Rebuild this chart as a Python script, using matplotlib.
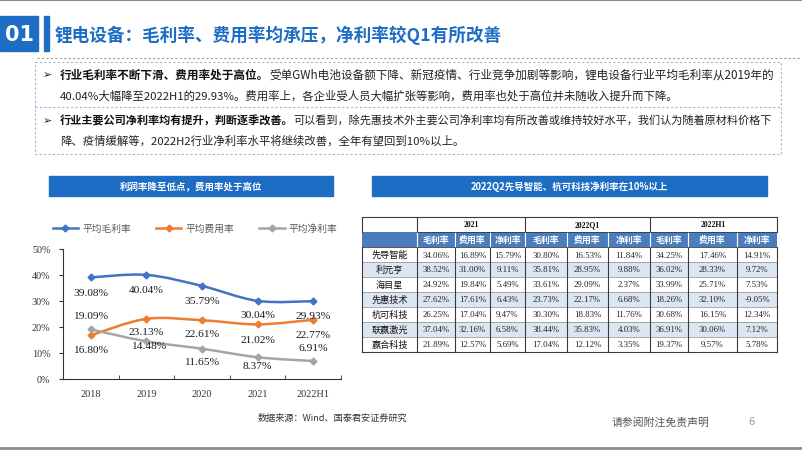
import matplotlib.pyplot as plt
import numpy as np
from matplotlib.path import Path
from matplotlib.patches import PathPatch, Rectangle
from matplotlib.lines import Line2D

plt.rcParams['font.family'] = ['Noto Sans CJK SC', 'DejaVu Sans']

# ---- data ----
years = ['2018', '2019', '2020', '2021', '2022H1']
gross = [39.08, 40.04, 35.79, 30.04, 29.93]
expense = [16.80, 23.13, 22.61, 21.02, 22.77]
net = [19.09, 14.48, 11.65, 8.37, 6.91]
series_names = ['平均毛利率', '平均费用率', '平均净利率']

periods = ['2021', '2022Q1', '2022H1']
metrics = ['毛利率', '费用率', '净利率']
companies = ['先导智能', '利元亨', '海目星', '先惠技术', '杭可科技', '联赢激光', '赢合科技']
table_vals = [
    ['34.06%', '16.89%', '15.79%', '30.80%', '16.53%', '11.84%', '34.25%', '17.46%', '14.91%'],
    ['38.52%', '31.00%', '9.11%', '35.81%', '28.95%', '9.88%', '36.02%', '28.33%', '9.72%'],
    ['24.92%', '19.84%', '5.49%', '33.61%', '29.09%', '2.37%', '33.99%', '25.71%', '7.53%'],
    ['27.62%', '17.61%', '6.43%', '23.73%', '22.17%', '6.68%', '18.26%', '32.10%', '-9.05%'],
    ['26.25%', '17.04%', '9.47%', '30.30%', '18.83%', '11.76%', '30.68%', '16.15%', '12.34%'],
    ['37.04%', '32.16%', '6.58%', '38.44%', '35.83%', '4.03%', '36.91%', '30.06%', '7.12%'],
    ['21.89%', '12.57%', '5.69%', '17.04%', '12.12%', '3.35%', '19.37%', '9.57%', '5.78%'],
]

title = '锂电设备：毛利率、费用率均承压，净利率较Q1有所改善'
para1_bold = '行业毛利率不断下滑、费用率处于高位。'
para1_rest = '受单GWh电池设备额下降、新冠疫情、行业竞争加剧等影响，锂电设备行业平均毛利率从2019年的'
para1_line2 = '40.04%大幅降至2022H1的29.93%。费用率上，各企业受人员大幅扩张等影响，费用率也处于高位并未随收入提升而下降。'
para2_bold = '行业主要公司净利率均有提升，判断逐季改善。'
para2_rest = '可以看到，除先惠技术外主要公司净利率均有所改善或维持较好水平，我们认为随着原材料价格下'
para2_line2 = '降、疫情缓解等，2022H2行业净利率水平将继续改善，全年有望回到10%以上。'

BLUE = '#1D6DC4'
SERIF = 'Liberation Serif'

W, H = 802, 452
fig = plt.figure(figsize=(W / 100, H / 100), dpi=100)

# background layer in pixel coordinates
bg = fig.add_axes([0, 0, 1, 1])
bg.set_xlim(0, W)
bg.set_ylim(H, 0)
bg.axis('off')

# slide frame
bg.plot([0, W], [1, 1], color='#8c8c8c', lw=1.5)
bg.plot([0, W], [449, 449], color='#8c8c8c', lw=2)

# title block
bg.add_patch(Rectangle((0, 17), 38, 35, color=BLUE))
bg.text(19, 35, '01', color='white', fontsize=15, fontweight='bold', ha='center', va='center',
        family='DejaVu Sans')
bg.add_patch(Rectangle((44, 17), 5, 35, color=BLUE))
bg.text(55, 35, title, color=BLUE, fontsize=12.7, fontweight='bold', va='center')
bg.plot([37, W], [59, 59], color='#a0a0a0', lw=0.8, ls=(0, (2, 2)))

# text box
bg.add_patch(Rectangle((35, 63), 746, 92, fill=False, ec='#9fb6d8', lw=0.8, ls=(0, (2, 2))))
bg.plot([35, 781], [108, 108], color='#9fb6d8', lw=0.8, ls=(0, (2, 2)))


def rich_line(y, bold, rest, size):
    bg.text(43, y, '➢', fontsize=8, va='center', family='DejaVu Sans', color='#222222')
    t = bg.text(60, y, bold, fontsize=size, fontweight='bold', va='center', color='#111111')
    bg.annotate(rest, xy=(1, 0.5), xycoords=t, va='center', ha='left', fontsize=size,
                color='#222222')


rich_line(75, para1_bold, para1_rest, 8.38)
bg.text(60, 96, para1_line2, fontsize=8.2, va='center', color='#222222')
rich_line(121, para2_bold, para2_rest, 8.02)
bg.text(60, 141, para2_line2, fontsize=8.2, va='center', color='#222222')

# panel headers
bg.add_patch(Rectangle((49, 177), 284, 20, color=BLUE))
bg.text(191, 187, '利润率降至低点，费用率处于高位', color='white', fontsize=6.8,
        fontweight='bold', ha='center', va='center')
bg.add_patch(Rectangle((372, 177), 395, 20, color=BLUE))
bg.text(569, 187, '2022Q2先导智能、杭可科技净利率在10%以上', color='white', fontsize=6.8,
        fontweight='bold', ha='center', va='center')

# footer
bg.text(258, 418, '数据来源：Wind、国泰君安证券研究', fontsize=6.6, va='center', color='#333333')
bg.text(612, 422, '请参阅附注免责声明', fontsize=7.8, va='center', color='#555555')
bg.text(748, 422, '6', fontsize=7.8, va='center', color='#999999')

# ---- table ----
col_edges = [362, 417, 455, 490, 525, 567, 608, 650, 688, 737, 777]
top, rh = 218, 15
hdr2_top = top + rh
data_top = top + 2 * rh
bottom = data_top + rh * len(companies)
HDR_BLUE = '#4a7dbd'
LIGHT = '#dce6f2'

bg.add_patch(Rectangle((col_edges[0], hdr2_top), col_edges[-1] - col_edges[0], rh,
                       color=HDR_BLUE, lw=0))
for i, comp in enumerate(companies):
    y0 = data_top + i * rh
    if i % 2 == 1:
        bg.add_patch(Rectangle((col_edges[0], y0), col_edges[-1] - col_edges[0], rh,
                               color=LIGHT, lw=0))
    bg.text((col_edges[0] + col_edges[1]) / 2, y0 + rh / 2, comp, fontsize=6.6,
            ha='center', va='center', color='#111111')
    for j, v in enumerate(table_vals[i]):
        bg.text((col_edges[j + 1] + col_edges[j + 2]) / 2, y0 + rh / 2, v, fontsize=6.3,
                ha='center', va='center', family=SERIF, color='#222222')
    if i > 0:
        bg.plot([col_edges[0], col_edges[-1]], [y0, y0], color='#8a8a8a', lw=0.5)

for k, p in enumerate(periods):
    x0, x1 = col_edges[1 + 3 * k], col_edges[4 + 3 * k]
    bg.text((x0 + x1) / 2, top + rh / 2, p, fontsize=5.6, fontweight='bold', family=SERIF,
            ha='center', va='center', color='#111111')
    for m, name in enumerate(metrics):
        c = 1 + 3 * k + m
        bg.text((col_edges[c] + col_edges[c + 1]) / 2, hdr2_top + rh / 2, name, fontsize=6.4,
                fontweight='bold', ha='center', va='center', color='white')

# grid lines
line_c = '#3a3a3a'
for x in col_edges:
    bg.plot([x, x], [data_top, bottom], color=line_c, lw=0.8)
for x in [col_edges[0], col_edges[1], col_edges[4], col_edges[7], col_edges[10]]:
    bg.plot([x, x], [top, hdr2_top], color=line_c, lw=0.8)
for x in col_edges[1:-1]:
    bg.plot([x, x], [hdr2_top, data_top], color='white', lw=0.8)
bg.plot([col_edges[0], col_edges[-1]], [top, top], color=line_c, lw=0.8)
bg.plot([col_edges[1], col_edges[-1]], [hdr2_top, hdr2_top], color=line_c, lw=0.6)
bg.plot([col_edges[0], col_edges[-1]], [data_top, data_top], color=line_c, lw=0.6)
bg.plot([col_edges[0], col_edges[-1]], [bottom, bottom], color=line_c, lw=0.8)

# ---- line chart ----
ax = fig.add_axes([63 / W, 1 - 380 / H, 278 / W, 130 / H])
ax.set_facecolor('none')
x = np.arange(len(years))
colors = ['#4472c4', '#ed7d31', '#a5a5a5']


def smooth_path(xs, ys):
    pts = np.column_stack([xs, ys]).astype(float)
    verts = [pts[0]]
    codes = [Path.MOVETO]
    n = len(pts)
    for i in range(n - 1):
        p0 = pts[max(i - 1, 0)]
        p1 = pts[i]
        p2 = pts[i + 1]
        p3 = pts[min(i + 2, n - 1)]
        verts += [p1 + (p2 - p0) / 6, p2 - (p3 - p1) / 6, p2]
        codes += [Path.CURVE4] * 3
    return Path(verts, codes)


# label offsets in pixels (dx, dy)
offsets = [
    [(0, -15), (0, -15), (0, -15), (0, -14), (0, -14)],
    [(0, -14), (0, -13), (0, -13), (0, -15), (0, -15)],
    [(0, 14), (2, -4), (0, -13), (0, -8), (0, 14)],
]
handles = []
for vals, col, name, offs in zip([gross, expense, net], colors, series_names, offsets):
    ax.add_patch(PathPatch(smooth_path(x, vals), fill=False, ec=col, lw=1.8, zorder=2))
    ax.plot(x, vals, ls='none', marker='D', ms=3.5, color=col, zorder=3)
    for xi, v, (dx, dy) in zip(x, vals, offs):
        ax.annotate(f'{v:.2f}%', (xi, v), xytext=(dx, dy), textcoords='offset pixels',
                    ha='center', va='center', fontsize=8.2, family=SERIF, color='#1a1a1a',
                    zorder=4)
    handles.append(Line2D([], [], color=col, lw=1.8, marker='D', ms=3.5, label=name))

ax.set_xlim(-0.5, len(years) - 0.5)
ax.set_ylim(0, 50)
ax.set_yticks(range(0, 51, 10))
ax.set_yticklabels([f'{v}%' for v in range(0, 51, 10)], family=SERIF, fontsize=7.3,
                   color='#333333')
ax.set_xticks(x)
ax.set_xticklabels(years, family=SERIF, fontsize=7.4, color='#333333')
ax.set_xticks(np.arange(-0.5, len(years)), minor=True)
ax.tick_params(axis='x', which='major', length=0, pad=7)
ax.tick_params(axis='x', which='minor', length=3, direction='in', color='#333333')
ax.tick_params(axis='y', length=3, direction='out', color='#333333', pad=6)
for s in ['top', 'right']:
    ax.spines[s].set_visible(False)
for s in ['left', 'bottom']:
    ax.spines[s].set_color('#333333')
    ax.spines[s].set_linewidth(0.8)

fig.legend(handles=handles, loc='center', bbox_to_anchor=(195 / W, 1 - 229 / H), ncol=3,
           frameon=False, fontsize=7, handlelength=2.6, columnspacing=2.6, handletextpad=0.4,
           labelcolor='#595959')

fig.savefig('out.png', dpi=100)
